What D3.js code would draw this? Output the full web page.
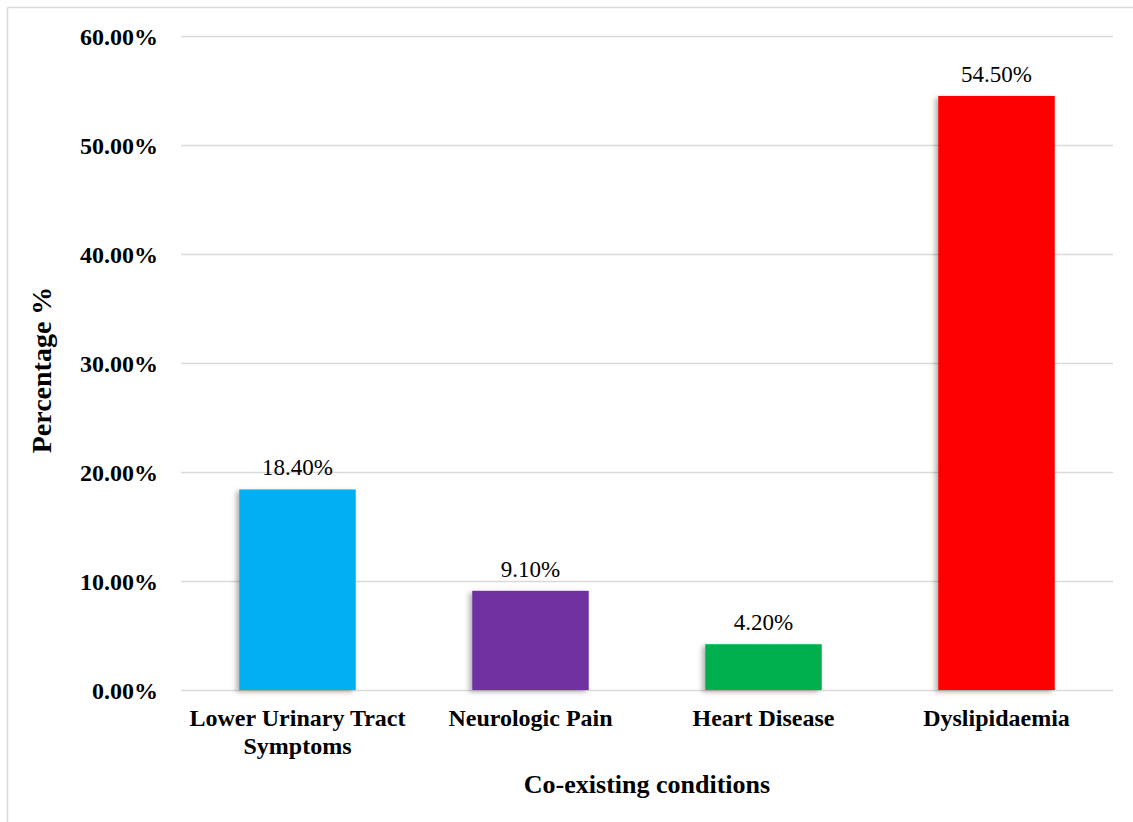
<!DOCTYPE html>
<html>
<head>
<meta charset="utf-8">
<script src="https://cdn.jsdelivr.net/npm/d3@7"></script>
<style>
  html, body { margin: 0; padding: 0; background: #fff; }
  svg { display: block; }
  text { font-family: "Liberation Serif", "Times New Roman", serif; fill: #000; }
</style>
</head>
<body>
<svg id="chart" width="1133" height="822"></svg>
<script>
// Co-existing conditions and their share of patients
const categories = ["Lower Urinary Tract Symptoms", "Neurologic Pain", "Heart Disease", "Dyslipidaemia"];
const categoryLines = [["Lower Urinary Tract", "Symptoms"], ["Neurologic Pain"], ["Heart Disease"], ["Dyslipidaemia"]];
const values = [18.4, 9.1, 4.2, 54.5];
const valueLabels = ["18.40%", "9.10%", "4.20%", "54.50%"];
const barColors = ["#00B0F0", "#7030A0", "#00B050", "#FF0000"];
const yTicks = [0, 10, 20, 30, 40, 50, 60];

const svg = d3.select("#chart");
const W = 1133, H = 822;

// outer frame (top and left edges)
svg.append("line").attr("x1", 7.5).attr("x2", W).attr("y1", 7.5).attr("y2", 7.5)
  .attr("stroke", "#d9d9d9").attr("stroke-width", 1.5);
svg.append("line").attr("x1", 7.5).attr("x2", 7.5).attr("y1", 7.5).attr("y2", H)
  .attr("stroke", "#d9d9d9").attr("stroke-width", 1.5);

const x = d3.scaleBand().domain(categories).range([181, 1113]).paddingInner(0.5).paddingOuter(0.25);
const y = d3.scaleLinear().domain([0, 60]).range([690, 36]);

// soft shadow under each bar
const defs = svg.append("defs");
const f = defs.append("filter").attr("id", "shadow").attr("x", "-20%").attr("y", "-20%").attr("width", "140%").attr("height", "140%");
f.append("feDropShadow").attr("dx", -3).attr("dy", 2).attr("stdDeviation", 2.5)
  .attr("flood-color", "#000").attr("flood-opacity", 0.3);

// gridlines via the y axis
const yAxis = d3.axisLeft(y).tickValues(yTicks).tickSize(-(1113 - 181))
  .tickFormat(d => d.toFixed(2) + "%");
const gy = svg.append("g").attr("transform", "translate(181,0)").call(yAxis);
gy.select(".domain").remove();
gy.selectAll(".tick line").attr("stroke", "#d9d9d9").attr("stroke-width", 1.5);
gy.selectAll(".tick text").attr("x", -23).attr("dy", "0.35em")
  .style("font-size", "24px").style("font-weight", "bold");

// bars
svg.append("g").selectAll("rect").data(categories).join("rect")
  .attr("x", d => x(d))
  .attr("y", (d, i) => y(values[i]))
  .attr("width", x.bandwidth())
  .attr("height", (d, i) => y(0) - y(values[i]))
  .attr("fill", (d, i) => barColors[i])
  .attr("filter", "url(#shadow)");

// value labels
svg.append("g").selectAll("text").data(categories).join("text")
  .attr("x", d => x(d) + x.bandwidth() / 2)
  .attr("y", (d, i) => y(values[i]) - 14)
  .attr("text-anchor", "middle")
  .style("font-size", "23px")
  .text((d, i) => valueLabels[i]);

// category labels (x axis)
const xAxis = d3.axisBottom(x).tickSize(0).tickFormat("");
const gx = svg.append("g").attr("transform", "translate(0,690)").call(xAxis);
gx.select(".domain").remove();
gx.selectAll(".tick").each(function(d, i) {
  const t = d3.select(this).append("text")
    .attr("text-anchor", "middle")
    .attr("y", 36)
    .style("font-size", "24px").style("font-weight", "bold");
  categoryLines[i].forEach((line, j) => {
    t.append("tspan").attr("x", 0).attr("dy", j === 0 ? 0 : 28).text(line);
  });
});

// axis titles
svg.append("text").attr("x", (181 + 1113) / 2).attr("y", 793)
  .attr("text-anchor", "middle").style("font-size", "26px").style("font-weight", "bold")
  .text("Co-existing conditions");
svg.append("text").attr("transform", "translate(51,370) rotate(-90)")
  .attr("text-anchor", "middle").style("font-size", "28px").style("font-weight", "bold")
  .text("Percentage %");
</script>
</body>
</html>
